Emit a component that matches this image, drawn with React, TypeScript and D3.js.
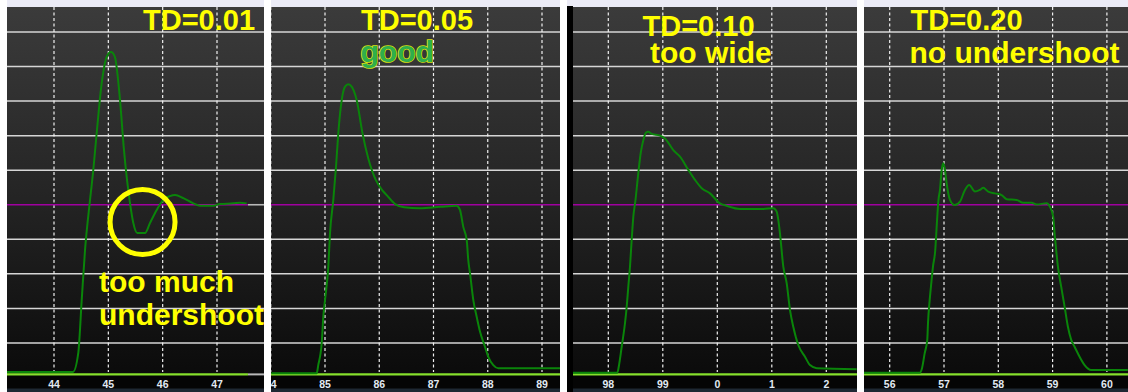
import React from 'react';
import * as d3 from 'd3';

// ---- data (time axis units / vertical divisions) ----
const td01Time = [43.135, 44.35, 44.447, 44.51, 44.571, 44.663, 44.723, 44.786, 44.878, 44.97, 45.049, 45.12, 45.215, 45.288, 45.344, 45.399, 45.46, 45.533, 45.675, 45.767, 45.89, 46.012, 46.135, 46.227, 46.38, 46.564, 46.687, 46.932, 47.055, 47.3, 47.423, 47.547];
const td01Level = [0.16, 0.16, 0.71, 2.24, 3.69, 5.14, 6.0, 7.08, 8.52, 9.28, 9.42, 9.28, 8.03, 6.58, 5.72, 5.05, 4.47, 4.18, 4.18, 4.47, 4.85, 5.14, 5.25, 5.28, 5.19, 5.04, 4.97, 4.97, 5.02, 5.04, 5.06, 5.04];

const td05Time = [84.01, 84.847, 84.876, 84.939, 84.969, 85.0, 85.061, 85.092, 85.153, 85.203, 85.245, 85.308, 85.369, 85.43, 85.492, 85.584, 85.691, 85.798, 85.936, 86.05, 86.137, 86.29, 86.456, 86.751, 87.12, 87.428, 87.488, 87.549, 87.612, 87.641, 87.673, 87.734, 87.796, 87.857, 87.949, 88.01, 88.102, 88.194, 89.332];
const td05Level = [0.12, 0.12, 0.36, 0.99, 1.76, 2.24, 3.21, 4.17, 5.14, 6.10, 7.07, 8.03, 8.42, 8.49, 8.42, 8.03, 7.07, 6.34, 5.72, 5.43, 5.28, 5.02, 4.93, 4.90, 4.94, 4.97, 4.85, 4.36, 3.98, 3.40, 3.02, 2.24, 1.76, 1.33, 0.89, 0.60, 0.36, 0.27, 0.27];

const td10Time = [97.352, 98.165, 98.202, 98.246, 98.306, 98.338, 98.367, 98.398, 98.429, 98.459, 98.499, 98.55, 98.594, 98.642, 98.692, 98.734, 98.796, 98.949, 99.04, 99.193, 99.316, 99.468, 99.591, 99.714, 99.866, 100.048, 100.172, 100.417, 100.844, 101.028, 101.09, 101.119, 101.15, 101.211, 101.273, 101.334, 101.394, 101.486, 101.609, 101.701, 101.824, 102.558];
const td10Level = [0.14, 0.14, 0.41, 0.89, 1.57, 2.05, 2.63, 3.21, 3.98, 4.65, 5.14, 5.91, 6.49, 6.87, 7.09, 7.11, 7.05, 7.00, 6.92, 6.58, 6.39, 6.01, 5.72, 5.48, 5.33, 5.04, 4.97, 4.88, 4.88, 4.90, 4.80, 4.56, 4.17, 3.21, 2.73, 1.95, 1.47, 0.94, 0.60, 0.36, 0.27, 0.24];

const td20Time = [55.521, 56.552, 56.595, 56.644, 56.692, 56.705, 56.736, 56.766, 56.797, 56.839, 56.858, 56.876, 56.898, 56.926, 56.957, 56.987, 57.018, 57.049, 57.11, 57.196, 57.294, 57.386, 57.465, 57.57, 57.662, 57.723, 57.815, 57.938, 58.061, 58.154, 58.338, 58.459, 58.614, 58.706, 58.89, 58.951, 59.011, 59.037, 59.066, 59.098, 59.158, 59.221, 59.282, 59.343, 59.405, 59.497, 59.589, 59.711, 60.386];
const td20Level = [0.14, 0.14, 0.27, 0.70, 1.09, 1.57, 2.24, 2.73, 3.21, 3.69, 4.17, 4.65, 5.14, 5.43, 6.01, 6.20, 6.01, 5.62, 5.14, 4.99, 5.09, 5.43, 5.57, 5.38, 5.43, 5.49, 5.38, 5.33, 5.28, 5.16, 5.14, 5.06, 5.06, 5.01, 5.04, 4.94, 4.65, 4.17, 3.69, 3.21, 2.63, 2.05, 1.47, 1.09, 0.89, 0.60, 0.36, 0.22, 0.22];

const td01Ticks = [44, 45, 46, 47];
const td05Ticks = [84, 85, 86, 87, 88, 89];
const td10Ticks = [98, 99, 100, 101, 102];
const td20Ticks = [56, 57, 58, 59, 60];

const gridLevels = [1, 2, 3, 4, 6, 7, 8, 9, 10];
const targetLevel = 5;
const zeroLevel = 0.09;

const titles = ['TD=0.01', 'TD=0.05', 'TD=0.10', 'TD=0.20'];
const notes = [['too much', 'undershoot'], ['good'], ['too wide'], ['no undershoot']];

// ---- layout ----
const panels = [
  { left: 7, right: 264, border: 0, domain: [44, 47], range: [54, 217], ticks: td01Ticks, time: td01Time, level: td01Level, traceEnd: 47.57,
    title: { x: 143, y: 29.5 }, note: { x: 99, y: 291.5, dy: 33.5, fill: '#ffff00' } },
  { left: 271, right: 560, border: 0, domain: [85, 89], range: [325, 542], ticks: td05Ticks, time: td05Time, level: td05Level, traceEnd: null,
    title: { x: 361, y: 29.5 }, note: { x: 360.5, y: 61.5, dy: 0, fill: '#2fae4c' } },
  { left: 567, right: 857, border: 6, domain: [98, 102], range: [608.3, 826.3], ticks: td10Ticks, time: td10Time, level: td10Level, traceEnd: null,
    title: { x: 642.5, y: 36 }, note: { x: 650, y: 63.3, dy: 0, fill: '#ffff00' } },
  { left: 864, right: 1128, border: 0, domain: [56, 60], range: [889.7, 1106.9], ticks: td20Ticks, time: td20Time, level: td20Level, traceEnd: null,
    title: { x: 910.5, y: 29.5 }, note: { x: 909.5, y: 63.3, dy: 0, fill: '#ffff00' } },
];

const undershootMark = { t: 45.63, v: 4.5 };

export default function App() {
  const y = d3.scaleLinear().domain([0, 10]).range([377.5, 32]);
  const font = "'Liberation Sans', Arial, sans-serif";
  return (
    <svg width={1128} height={392} style={{ position: 'absolute', left: 0, top: 0, display: 'block' }} fontFamily={font}>
      <defs>
        <linearGradient id="bg" x1="0" y1="7" x2="0" y2="375" gradientUnits="userSpaceOnUse">
          <stop offset="0" stopColor="#3b3b3b" />
          <stop offset="0.5" stopColor="#252525" />
          <stop offset="1" stopColor="#0b0b0b" />
        </linearGradient>
        {panels.map((p, i) => (
          <clipPath id={`clip${i}`} key={i}>
            <rect x={p.left + p.border} y={0} width={p.right - p.left - p.border} height={392} />
          </clipPath>
        ))}
      </defs>
      <rect x={0} y={0} width={1128} height={392} fill="#ffffff" />
      {panels.map((p, i) => {
        const x = d3.scaleLinear().domain(p.domain).range(p.range);
        const pl = p.left + p.border;
        const pr = p.right;
        const line = d3.line<number>()
          .x((_, k) => x(p.time[k]))
          .y((v) => y(v))
          .curve(d3.curveMonotoneX);
        const endX = p.traceEnd != null ? x(p.traceEnd) : pr;
        const n = p.note;
        return (
          <g key={i}>
            <rect x={p.left} y={0} width={p.right - p.left} height={7} fill="#ebebf6" />
            {p.border > 0 && <rect x={p.left} y={6} width={p.border} height={386} fill="#000" />}
            <rect x={pl} y={7} width={pr - pl} height={368} fill="url(#bg)" />
            <rect x={pl} y={375} width={pr - pl} height={17} fill="#050505" />
            <rect x={pl} y={388.5} width={pr - pl} height={3.5} fill="#1e2833" />
            <g clipPath={`url(#clip${i})`}>
              {gridLevels.map((g) => (
                <line key={g} x1={pl} x2={pr} y1={y(g)} y2={y(g)} stroke="#d6d6d6" strokeWidth={1.5} />
              ))}
              {p.ticks.map((t) => (
                <line key={t} x1={x(t)} x2={x(t)} y1={7} y2={372} stroke="#f0f0f0" strokeWidth={1.2} strokeDasharray="3,2.5" />
              ))}
              <line x1={pl} x2={endX} y1={y(targetLevel)} y2={y(targetLevel)} stroke="#a000a0" strokeWidth={1.6} />
              {endX < pr && <line x1={endX} x2={pr} y1={y(targetLevel)} y2={y(targetLevel)} stroke="#b8b8b8" strokeWidth={1.6} />}
              <line x1={pl} x2={endX} y1={y(zeroLevel)} y2={y(zeroLevel)} stroke="#86e02c" strokeWidth={2.2} />
              {endX < pr && <line x1={endX} x2={pr} y1={y(zeroLevel)} y2={y(zeroLevel)} stroke="#b8b8b8" strokeWidth={2} />}
              <path d={line(p.level) || ''} fill="none" stroke="#0a850a" strokeWidth={2} strokeLinejoin="round" />
              {p.ticks.map((t) => (
                <text key={t} x={x(t)} y={388} textAnchor="middle" fontSize={10.5} fontWeight="bold" fill="#e2eaf3">
                  {String(t % 100)}
                </text>
              ))}
              {i === 0 && (
                <circle cx={x(undershootMark.t)} cy={y(undershootMark.v)} r={32.5} fill="none" stroke="#ffff00" strokeWidth={5} />
              )}
              <text x={p.title.x} y={p.title.y} fontSize={29} fontWeight="bold" fill="#ffff00">{titles[i]}</text>
              {notes[i].map((s, k) => (
                <text key={k} x={n.x} y={n.y + k * n.dy} fontSize={30} fontWeight="bold" fill={n.fill}
                  stroke={i === 1 ? '#d8e010' : 'none'} strokeWidth={i === 1 ? 1.6 : 0} paintOrder="stroke">
                  {s}
                </text>
              ))}
            </g>
          </g>
        );
      })}
    </svg>
  );
}
